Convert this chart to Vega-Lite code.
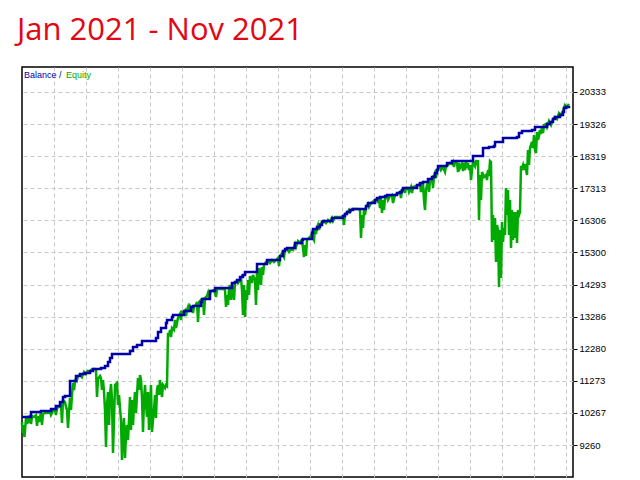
{
  "$schema": "https://vega.github.io/schema/vega-lite/v6.json",
  "width": 551,
  "height": 410,
  "autosize": {"type": "none"},
  "padding": {"left": 22, "top": 67, "right": 67, "bottom": 3},
  "background": "white",
  "title": {"text": "Jan 2021 - Nov 2021", "anchor": "start", "frame": "group", "font": "Open Sans", "fontSize": 31, "fontWeight": "normal", "color": "#e30613", "offset": -4, "baseline": "alphabetic", "dx": -5},
  "config": {"view": {"stroke": "#000000", "strokeWidth": 1.5}},
  "datasets": {
    "balance": [
      {"n":0,"v":10140},{"n":9,"v":10297},{"n":19,"v":10329},{"n":29,"v":10392},{"n":34,"v":10486},{"n":38,"v":10611},{"n":41,"v":10768},{"n":43,"v":10800},{"n":48,"v":11270},{"n":54,"v":11427},{"n":58,"v":11490},{"n":63,"v":11521},{"n":68,"v":11584},{"n":71,"v":11646},{"n":79,"v":11677},{"n":83,"v":11740},{"n":86,"v":11865},{"n":88,"v":11991},{"n":90,"v":12117},{"n":108,"v":12211},{"n":111,"v":12336},{"n":115,"v":12399},{"n":120,"v":12525},{"n":134,"v":12618},{"n":136,"v":12806},{"n":139,"v":12932},{"n":144,"v":13089},{"n":145,"v":13183},{"n":150,"v":13276},{"n":151,"v":13339},{"n":162,"v":13465},{"n":169,"v":13590},{"n":171,"v":13622},{"n":179,"v":13747},{"n":180,"v":13842},{"n":188,"v":14093},{"n":193,"v":14186},{"n":210,"v":14343},{"n":213,"v":14374},{"n":215,"v":14437},{"n":218,"v":14531},{"n":221,"v":14594},{"n":223,"v":14688},{"n":235,"v":14939},{"n":245,"v":15064},{"n":258,"v":15190},{"n":261,"v":15347},{"n":263,"v":15410},{"n":265,"v":15441},{"n":273,"v":15598},{"n":280,"v":15692},{"n":281,"v":15723},{"n":290,"v":15911},{"n":291,"v":16037},{"n":295,"v":16100},{"n":298,"v":16162},{"n":300,"v":16256},{"n":301,"v":16287},{"n":310,"v":16381},{"n":321,"v":16444},{"n":323,"v":16506},{"n":325,"v":16569},{"n":328,"v":16632},{"n":331,"v":16664},{"n":344,"v":16758},{"n":346,"v":16852},{"n":353,"v":16946},{"n":355,"v":17009},{"n":358,"v":17040},{"n":363,"v":17072},{"n":365,"v":17103},{"n":375,"v":17166},{"n":378,"v":17197},{"n":380,"v":17260},{"n":381,"v":17322},{"n":395,"v":17416},{"n":398,"v":17479},{"n":401,"v":17510},{"n":406,"v":17605},{"n":410,"v":17667},{"n":413,"v":17793},{"n":415,"v":17887},{"n":416,"v":18012},{"n":425,"v":18106},{"n":430,"v":18169},{"n":451,"v":18326},{"n":461,"v":18577},{"n":467,"v":18608},{"n":472,"v":18640},{"n":473,"v":18765},{"n":481,"v":18890},{"n":495,"v":18922},{"n":497,"v":19047},{"n":500,"v":19110},{"n":510,"v":19141},{"n":513,"v":19235},{"n":525,"v":19330},{"n":528,"v":19392},{"n":531,"v":19486},{"n":533,"v":19549},{"n":538,"v":19612},{"n":541,"v":19705},{"n":542,"v":19831},{"n":544,"v":19862},{"n":547,"v":19894}
    ],
    "equity": [
      {"n":0,"v":9984},{"n":0.5,"v":9639},{"n":1,"v":9890},{"n":2.5,"v":9513},{"n":4,"v":10109},{"n":5,"v":9922},{"n":6,"v":10172},{"n":7,"v":9953},{"n":8,"v":10203},{"n":9,"v":9922},{"n":10,"v":10172},{"n":12,"v":10140},{"n":14,"v":10203},{"n":15,"v":9859},{"n":16,"v":10172},{"n":17,"v":9984},{"n":18,"v":10140},{"n":19,"v":10266},{"n":20,"v":9890},{"n":21,"v":10235},{"n":23,"v":10266},{"n":26,"v":10266},{"n":28,"v":10297},{"n":29,"v":10203},{"n":31,"v":10329},{"n":33,"v":10392},{"n":34,"v":10203},{"n":35,"v":10423},{"n":37,"v":10454},{"n":39,"v":10517},{"n":40,"v":9953},{"n":41,"v":10674},{"n":43,"v":10611},{"n":44,"v":10454},{"n":45,"v":10360},{"n":46,"v":9796},{"n":47,"v":10297},{"n":48,"v":10737},{"n":49,"v":10360},{"n":50,"v":10831},{"n":51,"v":11207},{"n":52,"v":10988},{"n":53,"v":11238},{"n":54,"v":11364},{"n":55,"v":11301},{"n":56,"v":11427},{"n":59,"v":11458},{"n":60,"v":11395},{"n":62,"v":11552},{"n":64,"v":11490},{"n":66,"v":11584},{"n":68,"v":11552},{"n":69,"v":11615},{"n":71,"v":11646},{"n":73,"v":11646},{"n":74,"v":11615},{"n":75,"v":10768},{"n":76,"v":11333},{"n":78,"v":11427},{"n":79,"v":11364},{"n":80,"v":10988},{"n":81,"v":11301},{"n":82,"v":10925},{"n":83,"v":10360},{"n":84,"v":9200},{"n":85,"v":10517},{"n":86,"v":10925},{"n":87,"v":9890},{"n":88,"v":10831},{"n":89,"v":11176},{"n":90,"v":10674},{"n":91,"v":9012},{"n":92,"v":10047},{"n":93,"v":11144},{"n":95,"v":11207},{"n":96,"v":10517},{"n":97,"v":10831},{"n":98,"v":10423},{"n":99,"v":10047},{"n":100,"v":8792},{"n":101,"v":9733},{"n":102,"v":10109},{"n":103,"v":8855},{"n":104,"v":9576},{"n":105,"v":9890},{"n":106,"v":9420},{"n":107,"v":10047},{"n":108,"v":10768},{"n":109,"v":9733},{"n":110,"v":10674},{"n":111,"v":9890},{"n":112,"v":10517},{"n":113,"v":10925},{"n":114,"v":10266},{"n":115,"v":10831},{"n":116,"v":11364},{"n":117,"v":10988},{"n":118,"v":11458},{"n":119,"v":11301},{"n":120,"v":10737},{"n":121,"v":9670},{"n":122,"v":10674},{"n":123,"v":11144},{"n":124,"v":10517},{"n":125,"v":10140},{"n":126,"v":10925},{"n":127,"v":9733},{"n":128,"v":10360},{"n":129,"v":11144},{"n":130,"v":9670},{"n":131,"v":10047},{"n":132,"v":10360},{"n":133,"v":10831},{"n":134,"v":10109},{"n":135,"v":10988},{"n":136,"v":11144},{"n":137,"v":10831},{"n":138,"v":11301},{"n":140,"v":10768},{"n":141,"v":11144},{"n":143,"v":11050},{"n":144,"v":11144},{"n":145,"v":11113},{"n":146,"v":12775},{"n":147,"v":12681},{"n":148,"v":12869},{"n":149,"v":12649},{"n":150,"v":12932},{"n":152,"v":12869},{"n":153,"v":13183},{"n":154,"v":12932},{"n":156,"v":13245},{"n":158,"v":13371},{"n":159,"v":13183},{"n":160,"v":13433},{"n":162,"v":13402},{"n":163,"v":13465},{"n":164,"v":13308},{"n":165,"v":13496},{"n":166,"v":13590},{"n":167,"v":13433},{"n":168,"v":13622},{"n":170,"v":13528},{"n":171,"v":13402},{"n":172,"v":13622},{"n":174,"v":13653},{"n":175,"v":13747},{"n":176,"v":13120},{"n":177,"v":13747},{"n":179,"v":13810},{"n":181,"v":13842},{"n":182,"v":13339},{"n":183,"v":13873},{"n":185,"v":13936},{"n":186,"v":14030},{"n":187,"v":13873},{"n":189,"v":14093},{"n":192,"v":14124},{"n":194,"v":13904},{"n":195,"v":14155},{"n":201,"v":14155},{"n":203,"v":14124},{"n":204,"v":13590},{"n":205,"v":13967},{"n":206,"v":13653},{"n":207,"v":14155},{"n":208,"v":14280},{"n":209,"v":13810},{"n":210,"v":14312},{"n":211,"v":14124},{"n":212,"v":13810},{"n":213,"v":14343},{"n":215,"v":14406},{"n":216,"v":14343},{"n":218,"v":14437},{"n":219,"v":14500},{"n":220,"v":14124},{"n":221,"v":13339},{"n":222,"v":14280},{"n":223,"v":13276},{"n":224,"v":14124},{"n":225,"v":13810},{"n":226,"v":14437},{"n":227,"v":13967},{"n":228,"v":14563},{"n":230,"v":14343},{"n":231,"v":14594},{"n":233,"v":14437},{"n":234,"v":13653},{"n":235,"v":14751},{"n":236,"v":14124},{"n":237,"v":14813},{"n":238,"v":14688},{"n":239,"v":14280},{"n":240,"v":14845},{"n":241,"v":14594},{"n":242,"v":14908},{"n":244,"v":15001},{"n":246,"v":15033},{"n":248,"v":14970},{"n":250,"v":15064},{"n":252,"v":15001},{"n":254,"v":15064},{"n":256,"v":15127},{"n":257,"v":14876},{"n":258,"v":15158},{"n":260,"v":15284},{"n":262,"v":15158},{"n":263,"v":15378},{"n":265,"v":15410},{"n":267,"v":15315},{"n":269,"v":15410},{"n":271,"v":15378},{"n":273,"v":15567},{"n":274,"v":15472},{"n":276,"v":15661},{"n":278,"v":15598},{"n":279,"v":15661},{"n":280,"v":15692},{"n":281,"v":15441},{"n":282,"v":15158},{"n":283,"v":15535},{"n":284,"v":15190},{"n":285,"v":15692},{"n":287,"v":15754},{"n":289,"v":15817},{"n":290,"v":15911},{"n":291,"v":15754},{"n":292,"v":15692},{"n":293,"v":16037},{"n":294,"v":15880},{"n":295,"v":16068},{"n":296,"v":16162},{"n":297,"v":16005},{"n":298,"v":16194},{"n":300,"v":16225},{"n":302,"v":16287},{"n":304,"v":16225},{"n":306,"v":16319},{"n":308,"v":16256},{"n":310,"v":16381},{"n":311,"v":16287},{"n":313,"v":16412},{"n":319,"v":16412},{"n":321,"v":16444},{"n":322,"v":16162},{"n":323,"v":16506},{"n":325,"v":16537},{"n":327,"v":16632},{"n":328,"v":16569},{"n":330,"v":16664},{"n":336,"v":16664},{"n":338,"v":16632},{"n":339,"v":15754},{"n":340,"v":16475},{"n":341,"v":16068},{"n":342,"v":16632},{"n":343,"v":16475},{"n":344,"v":16727},{"n":346,"v":16821},{"n":347,"v":16727},{"n":349,"v":16852},{"n":353,"v":16946},{"n":355,"v":16978},{"n":356,"v":16852},{"n":357,"v":17009},{"n":358,"v":16695},{"n":359,"v":17009},{"n":360,"v":16538},{"n":361,"v":16946},{"n":362,"v":16632},{"n":363,"v":17009},{"n":365,"v":17072},{"n":366,"v":16946},{"n":368,"v":17072},{"n":370,"v":17103},{"n":371,"v":16852},{"n":373,"v":17103},{"n":375,"v":17135},{"n":378,"v":17197},{"n":379,"v":17009},{"n":380,"v":17260},{"n":382,"v":17291},{"n":383,"v":17166},{"n":384,"v":17322},{"n":386,"v":17322},{"n":387,"v":17197},{"n":389,"v":17353},{"n":390,"v":17166},{"n":391,"v":17353},{"n":394,"v":17385},{"n":396,"v":17416},{"n":398,"v":17447},{"n":399,"v":17197},{"n":400,"v":17447},{"n":401,"v":17479},{"n":402,"v":16946},{"n":403,"v":16632},{"n":404,"v":17260},{"n":405,"v":17416},{"n":406,"v":17510},{"n":407,"v":17197},{"n":408,"v":17542},{"n":410,"v":17636},{"n":411,"v":17322},{"n":412,"v":17699},{"n":413,"v":17793},{"n":414,"v":17636},{"n":415,"v":17856},{"n":416,"v":17949},{"n":418,"v":17980},{"n":419,"v":17887},{"n":421,"v":17980},{"n":423,"v":17824},{"n":424,"v":18012},{"n":426,"v":18043},{"n":428,"v":18106},{"n":430,"v":18075},{"n":431,"v":18137},{"n":432,"v":17980},{"n":433,"v":18137},{"n":435,"v":18106},{"n":436,"v":17824},{"n":437,"v":18106},{"n":438,"v":17949},{"n":440,"v":18075},{"n":441,"v":17856},{"n":442,"v":18106},{"n":443,"v":17887},{"n":444,"v":18137},{"n":445,"v":17949},{"n":446,"v":18106},{"n":447,"v":17887},{"n":448,"v":18043},{"n":449,"v":17573},{"n":450,"v":17887},{"n":451,"v":18137},{"n":453,"v":18012},{"n":454,"v":18200},{"n":455,"v":18043},{"n":456,"v":18200},{"n":457,"v":16319},{"n":458,"v":17730},{"n":459,"v":16946},{"n":460,"v":17824},{"n":462,"v":17667},{"n":464,"v":17730},{"n":465,"v":17573},{"n":466,"v":17887},{"n":467,"v":17699},{"n":468,"v":18169},{"n":469,"v":18137},{"n":470,"v":15629},{"n":471,"v":16475},{"n":472,"v":15692},{"n":473,"v":16381},{"n":474,"v":15001},{"n":475,"v":16162},{"n":476,"v":16005},{"n":477,"v":14218},{"n":478,"v":16005},{"n":479,"v":14500},{"n":480,"v":16256},{"n":481,"v":15629},{"n":482,"v":16068},{"n":483,"v":15848},{"n":484,"v":17322},{"n":485,"v":16475},{"n":486,"v":17260},{"n":487,"v":15848},{"n":488,"v":16946},{"n":489,"v":15441},{"n":490,"v":16632},{"n":491,"v":15692},{"n":492,"v":16569},{"n":493,"v":15754},{"n":494,"v":16569},{"n":495,"v":15598},{"n":496,"v":16632},{"n":497,"v":16475},{"n":498,"v":16569},{"n":499,"v":18012},{"n":500,"v":17949},{"n":501,"v":18043},{"n":502,"v":17887},{"n":503,"v":18075},{"n":505,"v":17730},{"n":506,"v":18514},{"n":507,"v":18043},{"n":508,"v":18577},{"n":510,"v":18765},{"n":511,"v":18577},{"n":512,"v":18984},{"n":513,"v":18514},{"n":514,"v":18420},{"n":515,"v":19078},{"n":516,"v":18828},{"n":517,"v":18953},{"n":518,"v":19141},{"n":519,"v":19016},{"n":520,"v":19235},{"n":521,"v":19047},{"n":522,"v":19298},{"n":524,"v":19330},{"n":525,"v":19235},{"n":527,"v":19423},{"n":529,"v":19298},{"n":531,"v":19486},{"n":533,"v":19549},{"n":535,"v":19486},{"n":537,"v":19674},{"n":539,"v":19612},{"n":541,"v":19737},{"n":543,"v":19925},{"n":545,"v":19862},{"n":547,"v":19956}
    ]
  },
  "encoding": {
    "x": {"field": "n", "type": "quantitative", "scale": {"domain": [0, 551], "nice": false, "zero": false},
          "axis": {"values": [32,64,96,128,160,192,224,256,288,320,352,384,416,448,480,512,544], "labels": false, "ticks": false, "domain": false, "grid": true, "gridColor": "#c8c8c8", "gridDash": [4, 3], "gridWidth": 1, "title": null}},
    "y": {"field": "v", "type": "quantitative", "scale": {"domain": [8259, 21117], "nice": false, "zero": false},
          "axis": {"orient": "right", "values": [9260,10267,11273,12280,13286,14293,15300,16306,17313,18319,19326,20333], "format": "d", "grid": true, "gridColor": "#c8c8c8", "gridDash": [4, 3], "gridWidth": 1, "domain": false, "tickColor": "#000000", "tickSize": 4, "labelFont": "Liberation Sans", "labelFontSize": 9.5, "labelColor": "#000000", "labelPadding": 2, "title": null}}
  },
  "layer": [
    {
      "data": {"name": "equity"},
      "mark": {"type": "line", "strokeWidth": 2.5, "interpolate": "linear"},
      "encoding": {
        "color": {"datum": "Equity", "type": "nominal",
          "scale": {"domain": ["Balance", "Equity"], "range": ["#0000a8", "#00aa00"]},
          "legend": {"title": null, "orient": "none", "legendX": 2, "legendY": 3, "direction": "horizontal", "padding": 0, "symbolSize": 0, "symbolStrokeWidth": 0, "symbolOpacity": 0, "labelOffset": -9, "columnPadding": 4, "labelFont": "Liberation Sans", "labelFontSize": 9,
            "labelColor": {"expr": "datum.value === 'Balance' ? '#0000a8' : '#00aa00'"},
            "labelExpr": "datum.label === 'Balance' ? 'Balance /' : datum.label"}}
      }
    },
    {
      "data": {"name": "balance"},
      "mark": {"type": "line", "strokeWidth": 2.5, "interpolate": "step-after"},
      "encoding": {"color": {"datum": "Balance", "type": "nominal"}}
    }
  ]
}
